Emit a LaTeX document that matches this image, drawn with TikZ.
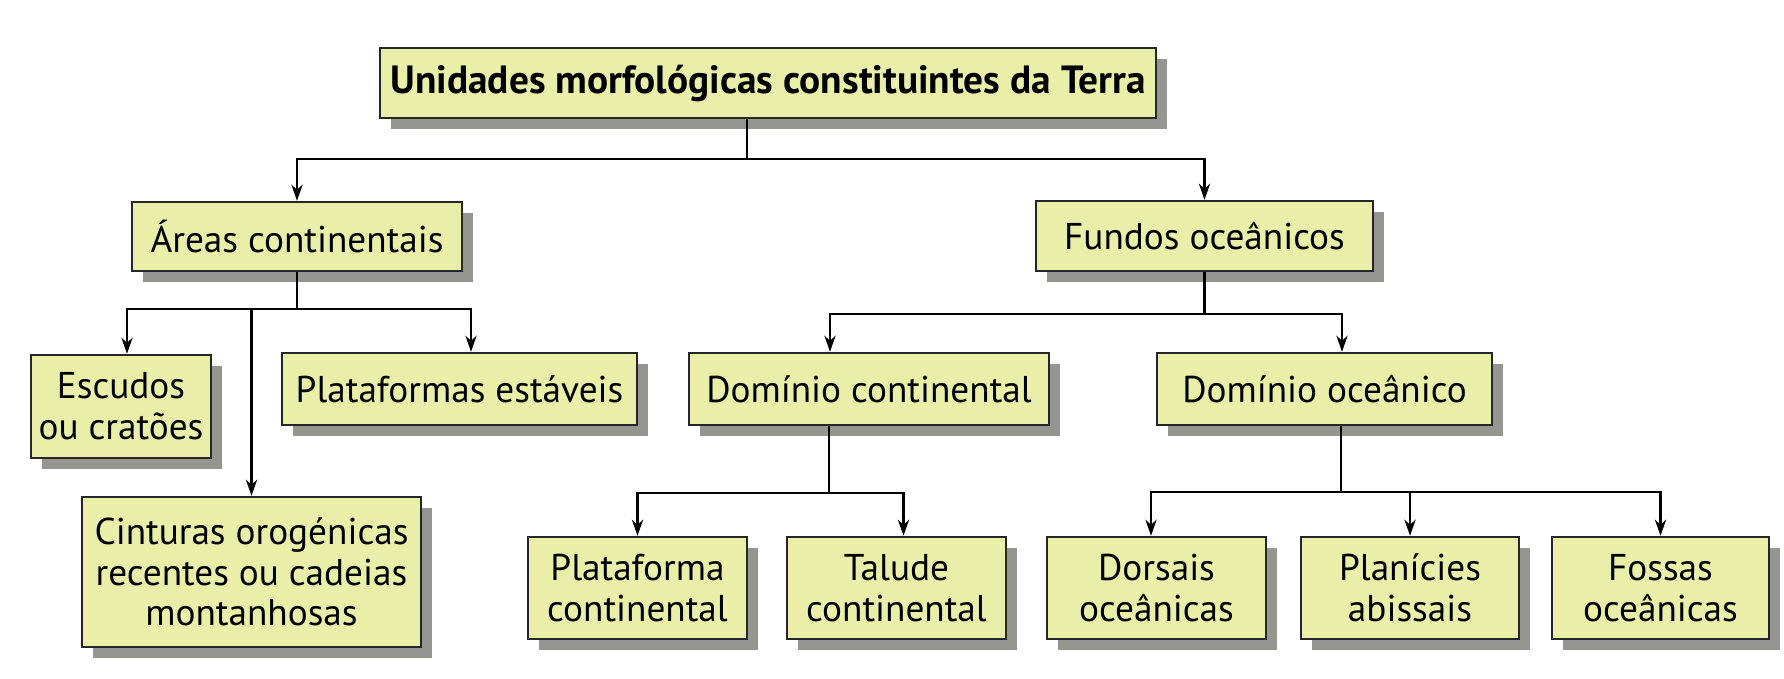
\documentclass[tikz,border=0pt]{standalone}
\usepackage{fontspec}
\setmainfont{PT Sans}
\usetikzlibrary{arrows.meta,shadows}
\definecolor{caixaverde}{RGB}{233,238,168}
\definecolor{sombra}{RGB}{150,150,145}

\begin{document}
\begin{tikzpicture}[
        caixa/.style={rectangle,
            draw=black!85,
            line width=0.7pt,
            fill=caixaverde,
            drop shadow={shadow xshift=0.11cm, shadow yshift=-0.11cm, fill=sombra, opacity=1},
            inner sep=0pt,
            align=center,
            font=\fontsize{10.6}{11.6}\selectfont},
        seta/.style={-{Stealth[length=4.6pt,width=3.2pt]}, line width=0.65pt},
        liga/.style={line width=0.65pt}
    ]
        \useasboundingbox (0,0) rectangle (17.84,-6.78);

        % nivel 1
        \node[caixa, minimum width=7.76cm, minimum height=0.70cm, font=\fontsize{11.2}{12}\selectfont\bfseries]
            (titulo) at (7.68,-0.83) {Unidades morfológicas constituintes da Terra};

        % nivel 2
        \node[caixa, minimum width=3.30cm, minimum height=0.69cm] (areas) at (2.97,-2.365) {Áreas continentais};
        \node[caixa, minimum width=3.37cm, minimum height=0.70cm] (fundos) at (12.045,-2.36) {Fundos oceânicos};

        % nivel 3
        \node[caixa, minimum width=1.80cm, minimum height=1.03cm] (escudos) at (1.21,-4.065) {Escudos\\ou cratões};
        \node[caixa, minimum width=3.55cm, minimum height=0.72cm] (plataformas) at (4.595,-3.89) {Plataformas estáveis};
        \node[caixa, minimum width=3.60cm, minimum height=0.72cm] (domcont) at (8.69,-3.89) {Domínio continental};
        \node[caixa, minimum width=3.35cm, minimum height=0.72cm] (domoce) at (13.245,-3.89) {Domínio oceânico};

        % nivel 4
        \node[caixa, minimum width=3.39cm, minimum height=1.50cm] (cinturas) at (2.515,-5.72) {Cinturas orogénicas\\recentes ou cadeias\\montanhosas};
        \node[caixa, minimum width=2.19cm, minimum height=1.02cm] (platcont) at (6.375,-5.88) {Plataforma\\continental};
        \node[caixa, minimum width=2.19cm, minimum height=1.02cm] (talude) at (8.965,-5.88) {Talude\\continental};
        \node[caixa, minimum width=2.19cm, minimum height=1.02cm] (dorsais) at (11.565,-5.88) {Dorsais\\oceânicas};
        \node[caixa, minimum width=2.18cm, minimum height=1.02cm] (planicies) at (14.10,-5.88) {Planícies\\abissais};
        \node[caixa, minimum width=2.17cm, minimum height=1.02cm] (fossas) at (16.605,-5.88) {Fossas\\oceânicas};

        % ligacoes
        \draw[liga] ([xshift=-0.21cm]titulo.south) -- ++(0,-0.40) coordinate (jt);
        \draw[seta] (jt) -| (areas.north);
        \draw[seta] (jt) -| (fundos.north);

        \draw[liga] (areas.south) -- ++(0,-0.37) coordinate (ja);
        \draw[seta] (ja) -| ([xshift=0.06cm]escudos.north);
        \draw[seta] (ja) -| ([xshift=0.115cm]plataformas.north);
        \draw[seta] (ja -| cinturas.north) -- (cinturas.north);

        \draw[liga] (fundos.south) -- ++(0,-0.42) coordinate (jf);
        \draw[seta] (jf) -| ([xshift=-0.39cm]domcont.north);
        \draw[seta] (jf) -| ([xshift=0.175cm]domoce.north);

        \draw[liga] ([xshift=-0.40cm]domcont.south) -- ++(0,-0.67) coordinate (jc);
        \draw[seta] (jc) -| (platcont.north);
        \draw[seta] (jc) -| ([xshift=0.07cm]talude.north);

        \draw[liga] ([xshift=0.165cm]domoce.south) -- ++(0,-0.66) coordinate (jo);
        \draw[seta] (jo) -| ([xshift=-0.055cm]dorsais.north);
        \draw[seta] (jo) -| (planicies.north);
        \draw[seta] (jo) -| (fossas.north);

    \end{tikzpicture}
\end{document}
